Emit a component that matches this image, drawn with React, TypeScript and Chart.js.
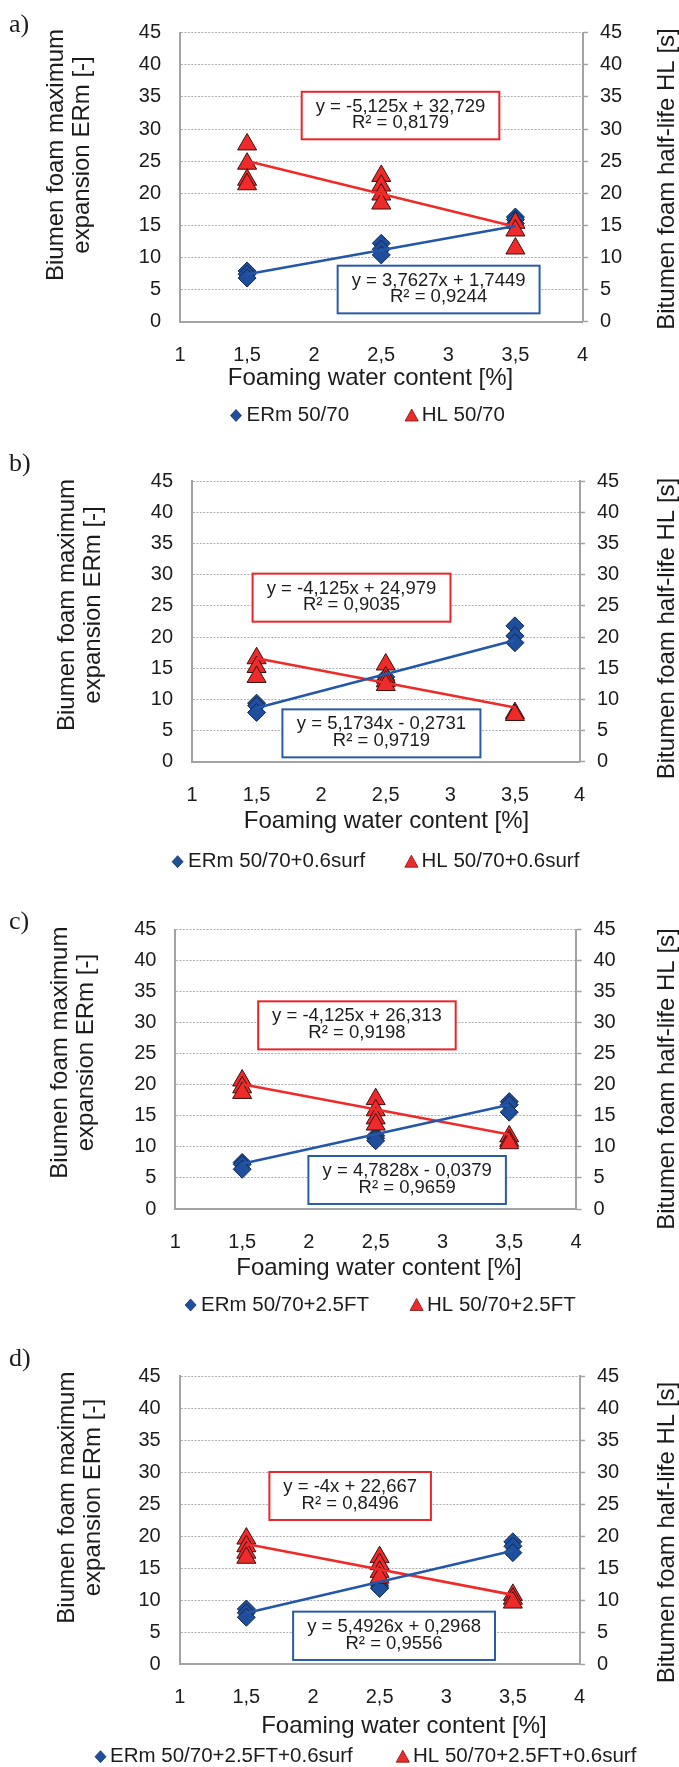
import React, { useEffect, useRef } from 'react';
import { Chart, registerables } from 'chart.js';

Chart.register(...registerables);

// ---------- shared labels ----------
const waterContent = [1.5, 2.5, 3.5];
const xTickLabels = ['1', '1,5', '2', '2,5', '3', '3,5', '4'];
const yTickLabels = ['0', '5', '10', '15', '20', '25', '30', '35', '40', '45'];
const xTitle = 'Foaming water content [%]';
const leftTitle = ['Biumen foam maximum', 'expansion ERm [-]'];
const rightTitle = 'Bitumen foam half-life HL [s]';

// ---------- panel a ----------
const ermA = [[7.9, 7.4, 6.8], [12.2, 11.3, 10.4], [16.3, 15.9, 15.3]];
const hlA = [[27.6, 24.6, 22.1, 21.4], [22.7, 21.2, 19.8, 18.4], [15.4, 14.2, 11.4]];
const trendErmA = [7.39, 14.91];
const trendHlA = [25.04, 14.79];
const eqErmA = ['y = 3,7627x + 1,7449', 'R² = 0,9244'];
const eqHlA = ['y = -5,125x + 32,729', 'R² = 0,8179'];
const legendA = ['ERm 50/70', 'HL 50/70'];

// ---------- panel b ----------
const ermB = [[9.4, 9.0, 7.9], [13.6, 13.1, 12.8], [21.8, 20.2, 19.1]];
const hlB = [[16.6, 15.2, 13.6], [15.6, 13.5, 12.9, 12.3], [7.8, 7.5]];
const trendErmB = [8.6, 19.5];
const trendHlB = [16.6, 8.7];
const eqErmB = ['y = 5,1734x - 0,2731', 'R² = 0,9719'];
const eqHlB = ['y = -4,125x + 24,979', 'R² = 0,9035'];
const legendB = ['ERm 50/70+0.6surf', 'HL 50/70+0.6surf'];

// ---------- panel c ----------
const ermC = [[7.5, 7.2, 6.4], [11.8, 11.4, 11.0], [17.3, 16.8, 15.6]];
const hlC = [[20.7, 19.6, 18.7], [17.7, 15.9, 14.6, 13.6], [11.7, 11.0, 10.6]];
const trendErmC = [7.3, 16.8];
const trendHlC = [20.1, 12.0];
const eqErmC = ['y = 4,7828x - 0,0379', 'R² = 0,9659'];
const eqHlC = ['y = -4,125x + 26,313', 'R² = 0,9198'];
const legendC = ['ERm 50/70+2.5FT', 'HL 50/70+2.5FT'];

// ---------- panel d ----------
const ermD = [[8.6, 8.0, 7.3], [12.3, 12.0, 11.8], [19.1, 18.4, 17.4]];
const hlD = [[19.6, 18.4, 17.4, 16.6], [16.7, 15.6, 14.4, 13.5], [10.8, 10.2, 9.6]];
const trendErmD = [7.97, 17.7];
const trendHlD = [18.75, 10.8];
const eqErmD = ['y = 5,4926x + 0,2968', 'R² = 0,9556'];
const eqHlD = ['y = -4x + 22,667', 'R² = 0,8496'];
const legendD = ['ERm 50/70+2.5FT+0.6surf', 'HL 50/70+2.5FT+0.6surf'];

// ---------- geometry / styling (not data) ----------
type Geo = {
  top: number; h: number;
  plotTop: number; plotBottom: number; plotLeft: number; plotRight: number;
  letterY: number; leftTitleX: number[]; leftTitleY: number; rightTitleY: number;
  xTitleX: number; xTitleY: number; legendY: number; legendX: number[];
  boxHl: number[]; boxErm: number[];
};

const geoA: Geo = { top: 0, h: 440, plotTop: 32.7, plotBottom: 321.7, plotLeft: 180, plotRight: 582.5,
  letterY: 31.5, leftTitleX: [56, 82], leftTitleY: 155, rightTitleY: 179, xTitleX: 370.5, xTitleY: 378,
  legendY: 415.5, legendX: [236, 246.5, 411.7, 421.7], boxHl: [1.907, 3.38, 35.8, 28.4], boxErm: [2.175, 3.68, 8.72, 1.3] };
const geoB: Geo = { top: 440, h: 440, plotTop: 41.3, plotBottom: 321.7, plotLeft: 192, plotRight: 579.5,
  letterY: 31, leftTitleX: [67, 93], leftTitleY: 165, rightTitleY: 188.5, xTitleX: 386.5, xTitleY: 381.7,
  legendY: 421.7, legendX: [177.6, 188, 411.4, 421.5], boxHl: [1.469, 3.001, 30.18, 22.47], boxErm: [1.70, 3.233, 8.40, 0.70] };
const geoC: Geo = { top: 880, h: 440, plotTop: 49.7, plotBottom: 329, plotLeft: 175.4, plotRight: 576,
  letterY: 49, leftTitleX: [60.6, 86.6], leftTitleY: 172.6, rightTitleY: 199, xTitleX: 379, xTitleY: 388,
  legendY: 425, legendX: [190.6, 201, 416.6, 427], boxHl: [1.620, 3.099, 33.46, 25.72], boxErm: [1.996, 3.475, 8.54, 0.81] };
const geoD: Geo = { top: 1320, h: 447, plotTop: 56, plotBottom: 344, plotLeft: 179.7, plotRight: 579.5,
  letterY: 46, leftTitleX: [67, 93], leftTitleY: 177.6, rightTitleY: 212.5, xTitleX: 403.9, xTitleY: 406.7,
  legendY: 436.7, legendX: [100.5, 110, 402.8, 413], boxHl: [1.673, 2.885, 30.0, 22.5], boxErm: [1.851, 3.366, 8.18, 0.63] };

const panels = [
  { letter: 'a)', erm: ermA, hl: hlA, trendErm: trendErmA, trendHl: trendHlA, eqErm: eqErmA, eqHl: eqHlA, legend: legendA, geo: geoA },
  { letter: 'b)', erm: ermB, hl: hlB, trendErm: trendErmB, trendHl: trendHlB, eqErm: eqErmB, eqHl: eqHlB, legend: legendB, geo: geoB },
  { letter: 'c)', erm: ermC, hl: hlC, trendErm: trendErmC, trendHl: trendHlC, eqErm: eqErmC, eqHl: eqHlC, legend: legendC, geo: geoC },
  { letter: 'd)', erm: ermD, hl: hlD, trendErm: trendErmD, trendHl: trendHlD, eqErm: eqErmD, eqHl: eqHlD, legend: legendD, geo: geoD },
];

const W = 679;
const SANS = '"Liberation Sans", Arial, Helvetica, sans-serif';
const SERIF = '"Liberation Serif", "Times New Roman", serif';
const TEXT = '#1c1c1c';
const AXIS = '#a3a3a3';
const GRID = '#b0b0b0';
const BLUE = '#1f4e9c';
const BLUE_LINE = '#2456aa';
const BLUE_BOX = '#2a5aa8';
const RED = '#ee2a2a';
const RED_LINE = '#ee2b2b';
const RED_BOX = '#e8262b';

type PanelCfg = typeof panels[number];

function Panel({ cfg }: { cfg: PanelCfg }) {
  const ref = useRef<HTMLCanvasElement>(null);

  useEffect(() => {
    const canvas = ref.current;
    if (!canvas) return;
    const g = cfg.geo;

    const ermPts = waterContent.flatMap((x, i) => cfg.erm[i].map((y) => ({ x, y })));
    const hlPts = waterContent.flatMap((x, i) => cfg.hl[i].map((y) => ({ x, y })));
    const ends = [waterContent[0], waterContent[waterContent.length - 1]];
    const ermLine = ends.map((x, i) => ({ x, y: cfg.trendErm[i] }));
    const hlLine = ends.map((x, i) => ({ x, y: cfg.trendHl[i] }));

    const decor = {
      id: 'decor',
      afterDraw(chart: any) {
        const ctx: CanvasRenderingContext2D = chart.ctx;
        ctx.save();
        ctx.fillStyle = TEXT;
        // panel letter
        ctx.font = `26px ${SERIF}`;
        ctx.textAlign = 'left';
        ctx.textBaseline = 'alphabetic';
        ctx.fillText(cfg.letter, 9, g.letterY);

        // axis titles
        ctx.font = `24px ${SANS}`;
        ctx.textAlign = 'center';
        ctx.textBaseline = 'middle';
        leftTitle.forEach((t, i) => {
          ctx.save();
          ctx.translate(g.leftTitleX[i], g.leftTitleY);
          ctx.rotate(-Math.PI / 2);
          ctx.fillText(t, 0, 0);
          ctx.restore();
        });
        ctx.save();
        ctx.translate(667, g.rightTitleY);
        ctx.rotate(-Math.PI / 2);
        ctx.fillText(rightTitle, 0, 0);
        ctx.restore();
        ctx.fillText(xTitle, g.xTitleX, g.xTitleY);

        // legend
        const ly = g.legendY;
        const [dX, t1X, tX, t2X] = g.legendX;
        ctx.fillStyle = BLUE;
        ctx.strokeStyle = '#15305e';
        ctx.lineWidth = 0.8;
        ctx.beginPath();
        ctx.moveTo(dX, ly - 6);
        ctx.lineTo(dX + 5.5, ly);
        ctx.lineTo(dX, ly + 6);
        ctx.lineTo(dX - 5.5, ly);
        ctx.closePath();
        ctx.fill();
        ctx.stroke();
        ctx.fillStyle = RED;
        ctx.strokeStyle = '#7a1515';
        ctx.beginPath();
        ctx.moveTo(tX, ly - 6.5);
        ctx.lineTo(tX + 6.6, ly + 5.5);
        ctx.lineTo(tX - 6.6, ly + 5.5);
        ctx.closePath();
        ctx.fill();
        ctx.stroke();
        ctx.fillStyle = TEXT;
        ctx.font = `20.5px ${SANS}`;
        ctx.textAlign = 'left';
        ctx.fillText(cfg.legend[0], t1X, ly);
        ctx.fillText(cfg.legend[1], t2X, ly);

        // equation boxes
        const xs = chart.scales.x;
        const ys = chart.scales.yLeft;
        const drawBox = (b: number[], lines: string[], color: string) => {
          const x0 = xs.getPixelForValue(b[0]);
          const x1 = xs.getPixelForValue(b[1]);
          const y0 = ys.getPixelForValue(b[2]);
          const y1 = ys.getPixelForValue(b[3]);
          const bh = y1 - y0;
          ctx.fillStyle = '#ffffff';
          ctx.fillRect(x0, y0, x1 - x0, bh);
          ctx.strokeStyle = color;
          ctx.lineWidth = 2;
          ctx.strokeRect(x0, y0, x1 - x0, bh);
          ctx.fillStyle = TEXT;
          ctx.font = `18.5px ${SANS}`;
          ctx.textAlign = 'center';
          ctx.textBaseline = 'middle';
          const cx = (x0 + x1) / 2;
          ctx.fillText(lines[0], cx, y0 + bh * 0.31);
          ctx.fillText(lines[1], cx, y0 + bh * 0.66);
        };
        drawBox(g.boxHl, cfg.eqHl, RED_BOX);
        drawBox(g.boxErm, cfg.eqErm, BLUE_BOX);
        ctx.restore();
      },
    };

    const tickFont = { family: SANS, size: 20 };

    const chart = new Chart(canvas, {
      type: 'scatter',
      data: {
        datasets: [
          {
            label: cfg.legend[0],
            data: ermPts,
            yAxisID: 'yLeft',
            pointStyle: 'rectRot',
            pointRadius: 9,
            backgroundColor: BLUE,
            borderColor: '#14284d',
            borderWidth: 1,
            order: 4,
          },
          {
            label: cfg.legend[1],
            data: hlPts,
            yAxisID: 'yRight',
            pointStyle: 'triangle',
            pointRadius: 11,
            backgroundColor: RED,
            borderColor: '#3d1010',
            borderWidth: 1,
            order: 3,
          },
          {
            label: 'trend HL',
            data: hlLine,
            yAxisID: 'yRight',
            showLine: true,
            pointRadius: 0,
            borderColor: RED_LINE,
            borderWidth: 2.6,
            order: 2,
          },
          {
            label: 'trend ERm',
            data: ermLine,
            yAxisID: 'yLeft',
            showLine: true,
            pointRadius: 0,
            borderColor: BLUE_LINE,
            borderWidth: 2.6,
            order: 1,
          },
        ],
      },
      options: {
        animation: false,
        responsive: false,
        maintainAspectRatio: false,
        devicePixelRatio: 1,
        events: [],
        layout: { padding: { top: g.plotTop, left: 0, right: 0, bottom: 0 } },
        plugins: { legend: { display: false }, tooltip: { enabled: false }, title: { display: false } },
        scales: {
          x: {
            type: 'linear',
            position: 'bottom',
            min: 1,
            max: 4,
            ticks: {
              stepSize: 0.5,
              autoSkip: false,
              maxRotation: 0,
              padding: 13.5,
              color: TEXT,
              font: tickFont,
              callback: (_v: any, i: number) => xTickLabels[i],
            },
            grid: { display: false },
            border: { display: true, color: AXIS, width: 2 },
            afterFit: (s: any) => { s.height = g.h - g.plotBottom; },
          },
          yLeft: {
            type: 'linear',
            position: 'left',
            min: 0,
            max: 45,
            ticks: {
              stepSize: 5,
              padding: 19,
              color: TEXT,
              font: tickFont,
              callback: (_v: any, i: number) => yTickLabels[i],
            },
            grid: {
              drawTicks: false,
              lineWidth: 1,
              color: (c: any) => (c.index === 0 ? 'rgba(0,0,0,0)' : GRID),
            },
            border: { display: true, color: AXIS, width: 2, dash: [2, 1.4] },
            afterFit: (s: any) => { s.width = g.plotLeft; },
          },
          yRight: {
            type: 'linear',
            position: 'right',
            min: 0,
            max: 45,
            ticks: {
              stepSize: 5,
              padding: 12,
              color: TEXT,
              font: tickFont,
              callback: (_v: any, i: number) => yTickLabels[i],
            },
            grid: {
              drawOnChartArea: false,
              drawTicks: true,
              tickLength: 5.5,
              tickColor: AXIS,
              tickWidth: 1.5,
            },
            border: { display: true, color: AXIS, width: 2 },
            afterFit: (s: any) => { s.width = W - g.plotRight; },
          },
        },
      } as any,
      plugins: [decor],
    });

    return () => chart.destroy();
  }, [cfg]);

  return (
    <canvas
      ref={ref}
      width={W}
      height={cfg.geo.h}
      style={{ position: 'absolute', left: 0, top: cfg.geo.top, width: W, height: cfg.geo.h, display: 'block' }}
    />
  );
}

export default function App() {
  return (
    <div style={{ position: 'absolute', left: 0, top: 0, width: W, height: 1767, background: '#ffffff', overflow: 'hidden' }}>
      {panels.map((p) => (
        <Panel key={p.letter} cfg={p} />
      ))}
    </div>
  );
}
